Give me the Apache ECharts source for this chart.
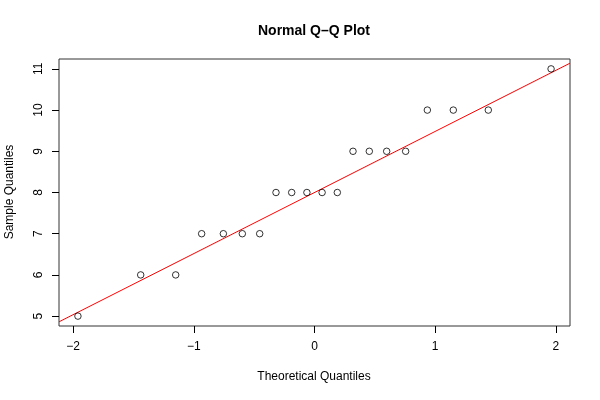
<!DOCTYPE html>
<html>
<head>
<meta charset="utf-8">
<script src="https://cdn.jsdelivr.net/npm/echarts@6/dist/echarts.min.js"></script>
<style>html,body{margin:0;padding:0;background:#fff}#c{width:600px;height:400px}</style>
</head>
<body>
<div id="c"></div>
<script>
// Theoretical quantiles (normal scores for n = 20)
var theoretical = [-1.960, -1.440, -1.150, -0.935, -0.755, -0.598, -0.454, -0.319, -0.189, -0.063,
                    0.063,  0.189,  0.319,  0.454,  0.598,  0.755,  0.935,  1.150,  1.440,  1.960];
// Sample quantiles (sorted sample)
var sample = [5, 6, 6, 7, 7, 7, 7, 8, 8, 8, 8, 8, 9, 9, 9, 9, 10, 10, 10, 11];
var xTicks = [-2, -1, 0, 1, 2];
var yTicks = [5, 6, 7, 8, 9, 10, 11];
var titleText = 'Normal Q\u2013Q Plot';
var xLabel = 'Theoretical Quantiles';
var yLabel = 'Sample Quantiles';

function quantile7(arr, p) {
  var s = arr.slice().sort(function (a, b) { return a - b; });
  var h = (s.length - 1) * p;
  var lo = Math.floor(h), hi = Math.ceil(h);
  return s[lo] + (h - lo) * (s[hi] - s[lo]);
}
var zq = 0.6744897501960817;
var q1 = quantile7(sample, 0.25), q3 = quantile7(sample, 0.75);
var slope = (q3 - q1) / (2 * zq);
var intercept = q1 + slope * zq;

function expand(arr) {
  var mn = Math.min.apply(null, arr), mx = Math.max.apply(null, arr);
  var d = (mx - mn) * 0.04;
  return [mn - d, mx + d];
}
var xr = expand(theoretical), yr = expand(sample);

var points = theoretical.map(function (x, i) { return [x, sample[i]]; });
var lineData = [[xr[0], intercept + slope * xr[0]], [xr[1], intercept + slope * xr[1]]];

var font = 'Liberation Sans, Arial, Helvetica, sans-serif';
var chart = echarts.init(document.getElementById('c'), null, { renderer: 'canvas' });
chart.setOption({
  animation: false,
  backgroundColor: '#fff',
  grid: { left: 59, right: 30, top: 59, bottom: 74, show: true, borderColor: '#333', borderWidth: 1, backgroundColor: 'transparent' },
  xAxis: {
    type: 'value', min: xr[0], max: xr[1],
    splitLine: { show: false },
    axisLine: { show: false, onZero: false },
    axisTick: { show: true, length: 7, customValues: xTicks, lineStyle: { color: '#000' } },
    axisLabel: { show: true, customValues: xTicks, margin: 15, fontSize: 12, color: '#000', fontFamily: font,
      formatter: function (v) { return v < 0 ? '\u2212' + Math.abs(v) : String(v); } }
  },
  yAxis: {
    type: 'value', min: yr[0], max: yr[1],
    splitLine: { show: false },
    axisLine: { show: false, onZero: false },
    axisTick: { show: true, length: 7, customValues: yTicks, lineStyle: { color: '#000' } },
    axisLabel: { show: true, customValues: yTicks, rotate: 90, margin: 14, fontSize: 12, color: '#000', fontFamily: font }
  },
  graphic: [
    { type: 'text', x: 314, y: 31, style: { text: titleText, font: 'bold 14px ' + font, fill: '#000', textAlign: 'center', textVerticalAlign: 'middle' } },
    { type: 'text', x: 314, y: 377, style: { text: xLabel, font: '12px ' + font, fill: '#000', textAlign: 'center', textVerticalAlign: 'middle' } },
    { type: 'text', x: 10, y: 192, rotation: Math.PI / 2, style: { text: yLabel, font: '12px ' + font, fill: '#000', textAlign: 'center', textVerticalAlign: 'middle' } }
  ],
  series: [
    { type: 'line', data: lineData, symbol: 'none', clip: true, lineStyle: { color: '#ff0000', width: 1 }, silent: true, z: 2 },
    { type: 'scatter', data: points, symbol: 'circle', symbolSize: 6.5,
      itemStyle: { color: 'rgba(255,255,255,0)', borderColor: '#000', borderWidth: 1 }, z: 3 }
  ]
});
</script>
</body>
</html>
